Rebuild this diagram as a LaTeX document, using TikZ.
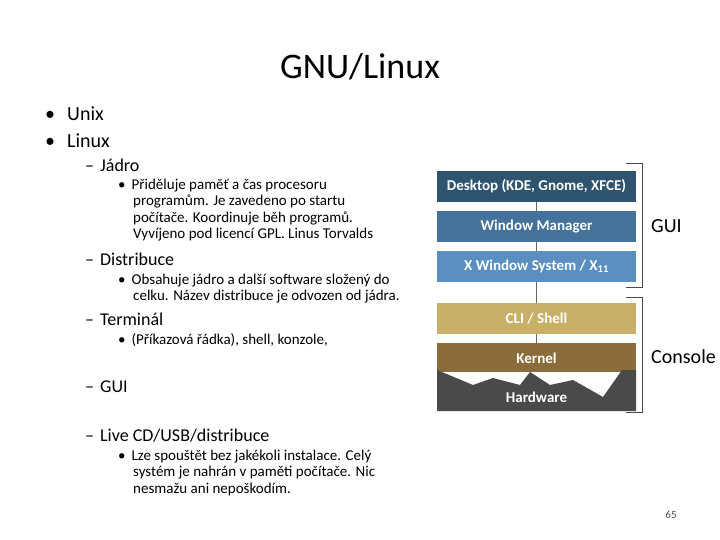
\documentclass[tikz,border=0pt]{standalone}
\usepackage{fontspec}
\setmainfont{Carlito}
\begin{document}
\begin{tikzpicture}[x=1pt,y=-1pt,
 txt/.style={anchor=west,inner sep=0pt},
 l1/.style={txt,font=\fontsize{20}{22}\selectfont},
 l2/.style={txt,font=\fontsize{18}{20}\selectfont},
 l3/.style={txt,font=\fontsize{15}{16.3}\selectfont,align=left,anchor=north west},
 lay/.style={minimum width=199pt,minimum height=31pt,inner sep=0pt,text=white,font=\fontsize{15}{16}\selectfont\bfseries},
 brk/.style={draw=black!70,line width=0.8pt}]
\useasboundingbox[fill=white] (0,0) rectangle (720,540);
\node[font=\fontsize{36}{40}\selectfont] (title) at (360,67) {GNU/Linux};
\node[l1] (b1) at (45,114) {•\hspace{12pt}Unix};
\node[l1] (b2) at (45,141) {•\hspace{12pt}Linux};
\node[l2] (jadro) at (85,165) {–\hspace{6pt}Jádro};
\node[l3] (jt) at (118,179) {•\hspace{6pt}Přiděluje paměť a čas procesoru\\\hspace{15pt}programům. Je zavedeno po startu\\\hspace{15pt}počítače. Koordinuje běh programů.\\\hspace{15pt}Vyvíjeno pod licencí GPL. Linus Torvalds};
\node[l2] (dis) at (85,259) {–\hspace{6pt}Distribuce};
\node[l3] (dt) at (118,274) {•\hspace{6pt}Obsahuje jádro a další software složený do\\\hspace{15pt}celku. Název distribuce je odvozen od jádra.};
\node[l2] (term) at (85,319) {–\hspace{6pt}Terminál};
\node[l3] (tt) at (118,333) {•\hspace{6pt}(Příkazová řádka), shell, konzole,};
\node[l2] (gui) at (85,387) {–\hspace{6pt}GUI};
\node[l2] (live) at (85,436) {–\hspace{6pt}Live CD/USB/distribuce};
\node[l3] (lt) at (118,450) {•\hspace{6pt}Lze spouštět bez jakékoli instalace. Celý\\\hspace{15pt}systém je nahrán v paměti počítače. Nic\\\hspace{15pt}nesmažu ani nepoškodím.};
\node[font=\fontsize{11}{12}\selectfont,text=black!70] (pg) at (671,515) {65};
% layers
\fill[color={rgb,255:red,138;green,109;blue,59}] (437,343) rectangle (636,372);
\fill[color={rgb,255:red,74;green,74;blue,74}] (437,370) -- (473,385) -- (493,378) -- (520,385) -- (530,372) -- (550,385) -- (573,380) -- (603,397) -- (622,370) -- (636,370) -- (636,411) -- (437,411) -- cycle;
\draw[black!60] (536.5,202) -- (536.5,343);
\node[lay,fill={rgb,255:red,47;green,84;blue,112}] (desk) at (536.5,186.5) {Desktop (KDE, Gnome, XFCE)};
\node[lay,fill={rgb,255:red,68;green,114;blue,154}] (wm) at (536.5,226.5) {Window Manager};
\node[lay,fill={rgb,255:red,91;green,143;blue,191}] (xw) at (536.5,266.5) {X Window System / X\textsubscript{11}};
\node[lay,fill={rgb,255:red,201;green,176;blue,104}] (cli) at (536.5,318.5) {CLI / Shell};
\node[text=white,font=\fontsize{15}{16}\selectfont\bfseries] (kern) at (536.5,358) {Kernel};
\node[text=white,font=\fontsize{15}{16}\selectfont\bfseries] (hw) at (536.5,397) {Hardware};
\draw[brk] (626,163) -- (642,163) -- (642,287) -- (626,287);
\draw[brk] (626,297) -- (642,297) -- (642,412) -- (626,412);
\node[txt,font=\fontsize{20}{22}\selectfont] (guil) at (651,226) {GUI};
\node[txt,font=\fontsize{20}{22}\selectfont] (con) at (651,357) {Console};
\end{tikzpicture}
\end{document}
